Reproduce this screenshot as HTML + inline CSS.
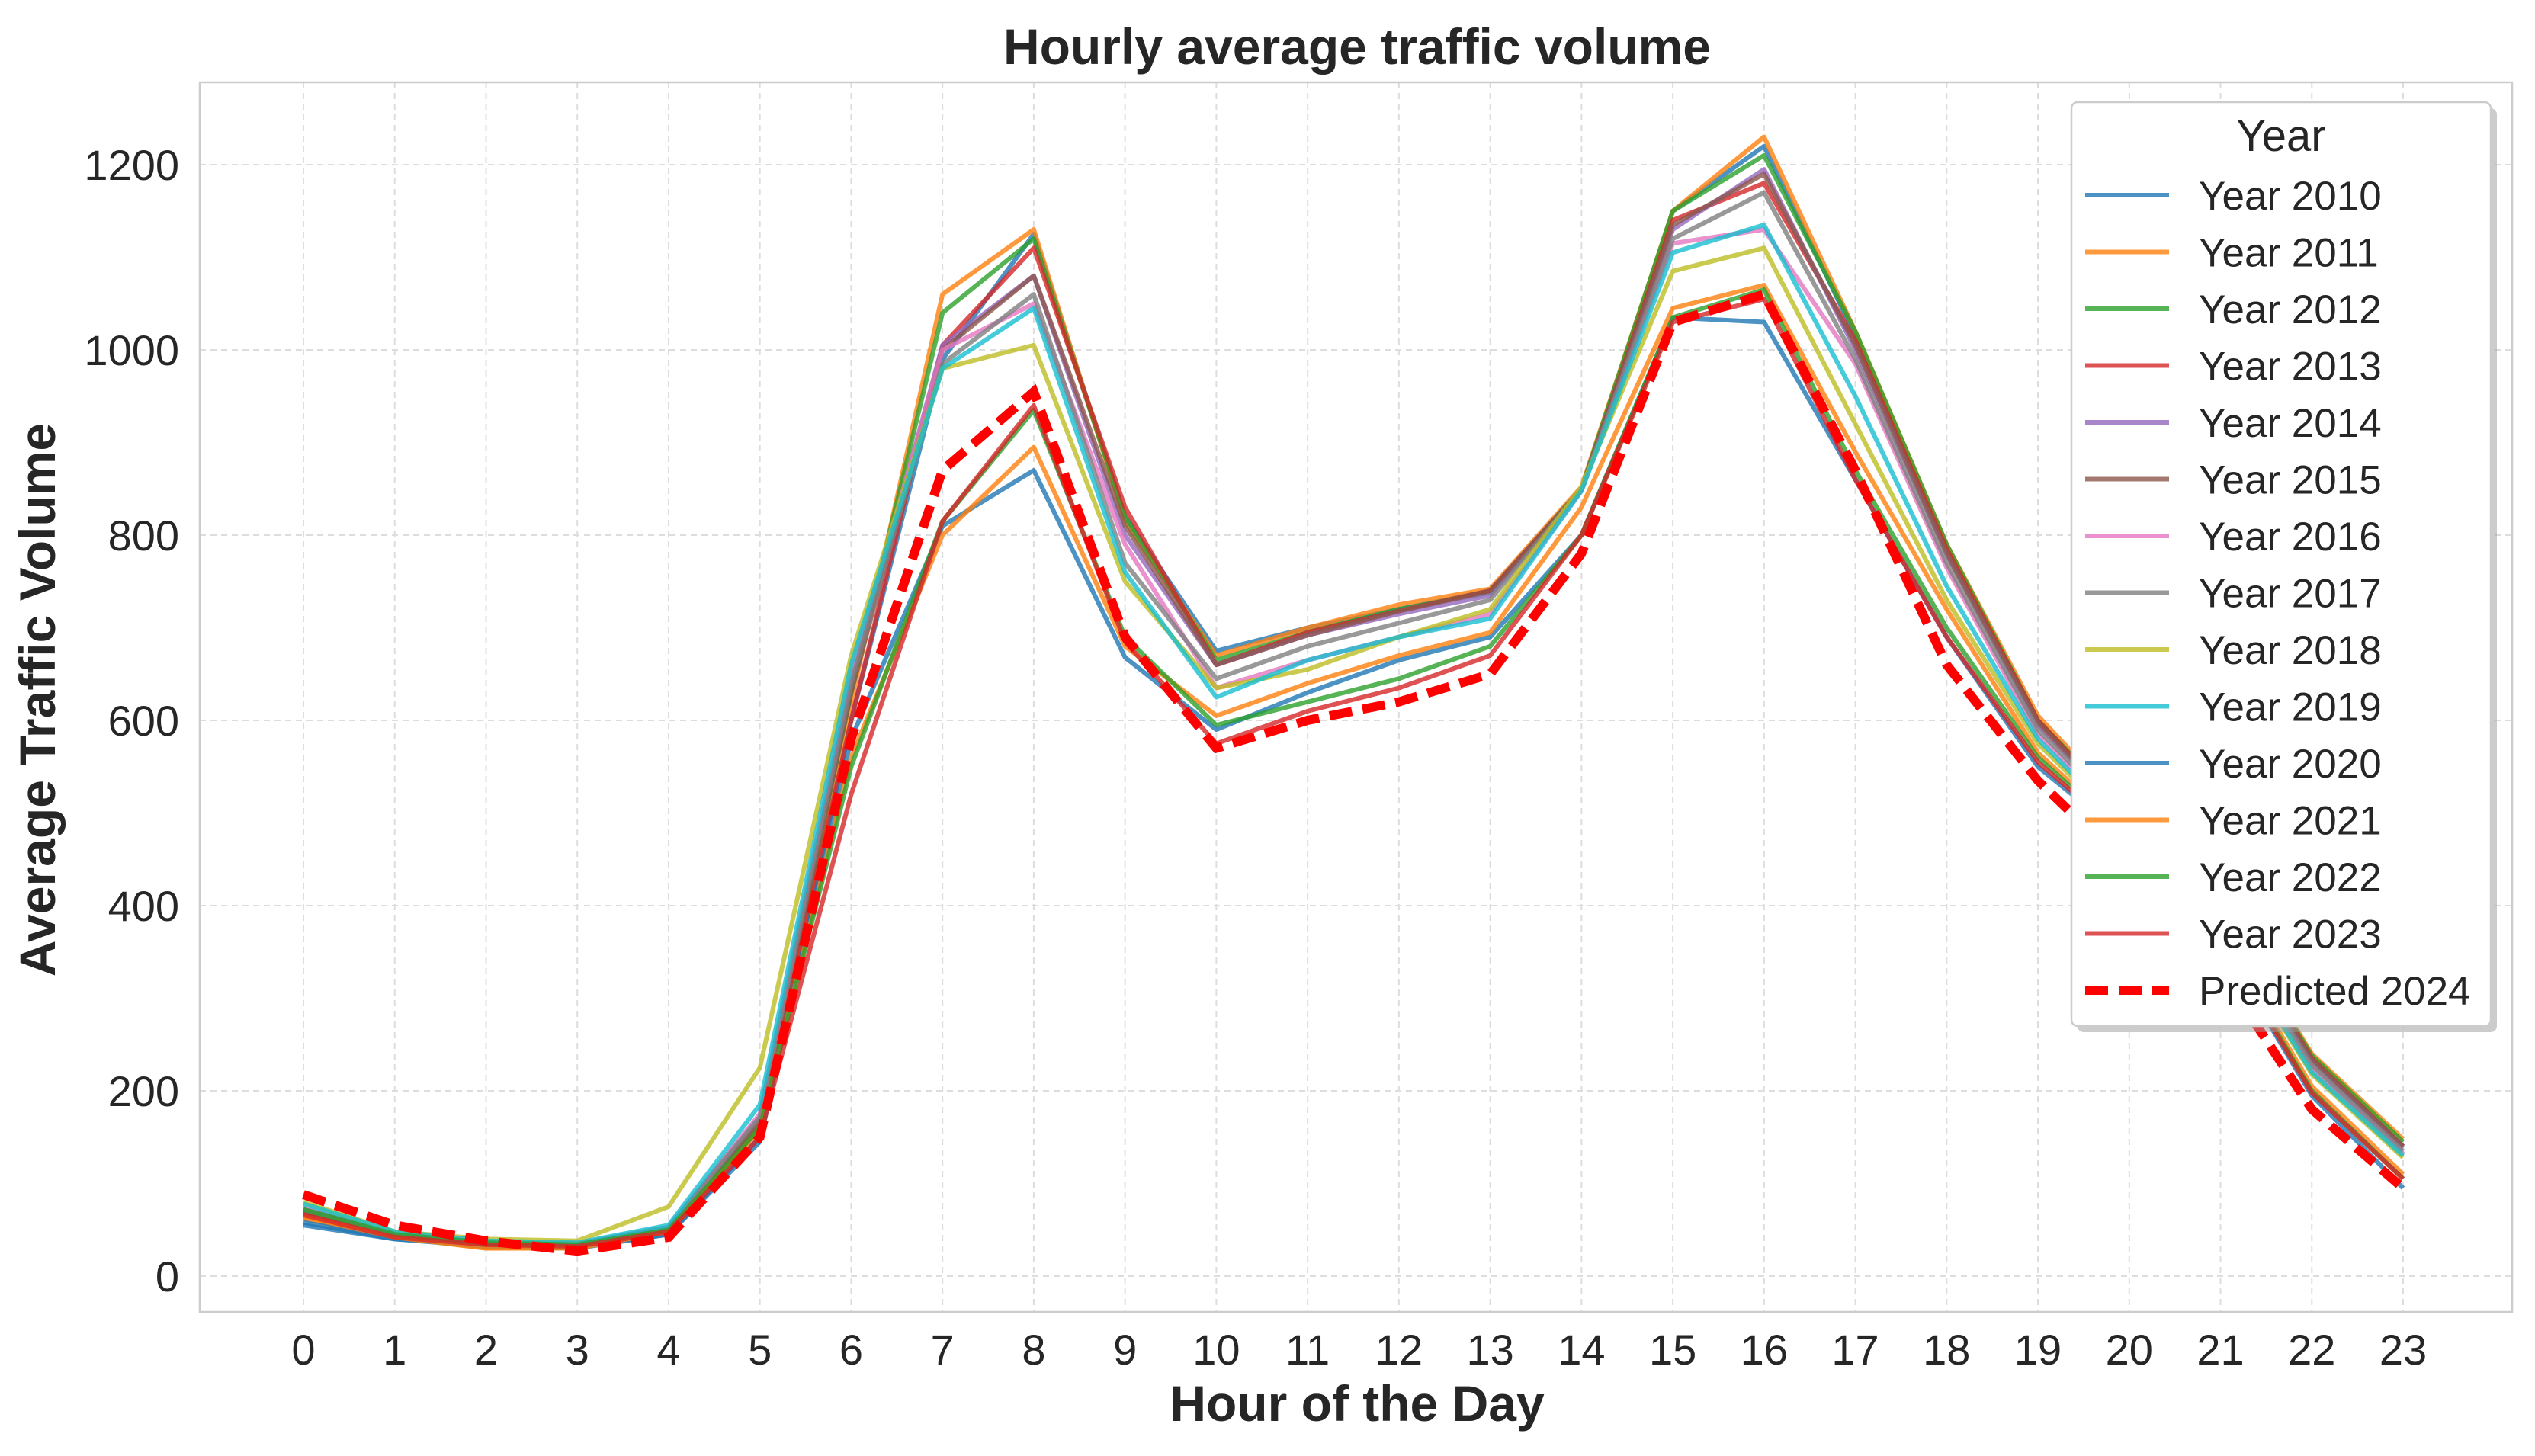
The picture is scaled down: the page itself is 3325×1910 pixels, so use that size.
<!DOCTYPE html>
<html><head><meta charset="utf-8">
<style>
html,body{margin:0;padding:0;background:#fff;}
svg{display:block;font-family:"Liberation Sans","DejaVu Sans",sans-serif;}
</style></head>
<body>
<svg id="chart" width="3325" height="1910" viewBox="0 0 3325 1910" xmlns="http://www.w3.org/2000/svg">
<rect width="3325" height="1910" fill="#fff"/>
<text x="1780" y="84" text-anchor="middle" font-size="66" font-weight="bold" fill="#262626">Hourly average traffic volume</text>
<g id="grid"></g>
<rect x="262" y="108" width="3033" height="1613" fill="none" stroke="#cccccc" stroke-width="2.5"/>
<g id="series"></g>
<g id="ticks"></g>
<text x="1780" y="1864" text-anchor="middle" font-size="66" font-weight="bold" fill="#262626">Hour of the Day</text>
<text transform="translate(72,918) rotate(-90)" text-anchor="middle" font-size="66" font-weight="bold" fill="#262626">Average Traffic Volume</text>
<g id="legend"></g>
</svg>
<script>
const hours=[0,1,2,3,4,5,6,7,8,9,10,11,12,13,14,15,16,17,18,19,20,21,22,23];
const yTicks=[0,200,400,600,800,1000,1200];
const seriesNames=["Year 2010","Year 2011","Year 2012","Year 2013","Year 2014","Year 2015","Year 2016","Year 2017","Year 2018","Year 2019","Year 2020","Year 2021","Year 2022","Year 2023"];
const y2010=[55,40,35,32,45,145,600,990,1125,820,675,700,720,740,850,1150,1220,1015,785,600,495,395,235,140];
const y2011=[62,42,30,30,48,160,620,1060,1130,815,670,700,725,742,852,1150,1230,1020,790,605,500,400,240,148];
const y2012=[70,45,35,33,50,165,630,1040,1120,820,665,695,720,738,850,1150,1210,1020,790,600,498,398,238,145];
const y2013=[68,44,36,34,52,160,600,1005,1110,830,660,695,718,740,848,1140,1180,1010,785,600,495,395,235,140];
const y2014=[72,46,36,34,52,170,640,1005,1080,800,660,692,715,735,848,1130,1195,1000,780,595,492,392,232,138];
const y2015=[70,45,36,34,52,168,630,1000,1080,810,660,692,718,740,850,1135,1190,1005,780,598,494,394,234,140];
const y2016=[74,46,37,35,53,175,650,1000,1050,790,635,665,690,715,848,1115,1130,985,765,585,485,385,225,132];
const y2017=[72,46,37,35,53,172,640,985,1060,770,645,680,705,730,850,1120,1170,990,770,590,488,388,228,135];
const y2018=[80,48,40,38,75,225,670,980,1005,750,635,655,690,720,852,1085,1110,920,730,575,478,378,218,128];
const y2019=[78,48,38,36,55,185,660,980,1045,760,625,665,690,710,848,1105,1135,950,745,580,480,380,220,130];
const y2020=[58,40,32,30,45,150,580,810,870,668,590,630,665,690,800,1035,1030,860,690,550,470,360,195,95];
const y2021=[64,42,30,30,48,158,560,800,895,680,605,640,670,695,830,1045,1070,890,720,565,475,370,205,110];
const y2022=[72,45,36,34,50,160,550,815,935,690,595,620,645,680,800,1035,1065,870,700,560,472,365,200,105];
const y2023=[66,42,34,32,48,150,520,815,940,685,575,610,635,670,800,1030,1055,860,690,555,470,362,198,105];
const predicted2024=[88,55,38,27,42,150,580,870,955,690,570,600,620,650,780,1030,1060,870,660,535,440,330,180,95];
const allSeries=[y2010,y2011,y2012,y2013,y2014,y2015,y2016,y2017,y2018,y2019,y2020,y2021,y2022,y2023];
const colors=["#1f77b4","#ff7f0e","#2ca02c","#d62728","#9467bd","#8c564b","#e377c2","#7f7f7f","#bcbd22","#17becf","#1f77b4","#ff7f0e","#2ca02c","#d62728"];

const NS="http://www.w3.org/2000/svg";
const xScale=h=>398+h*(3152-398)/23;
const yScale=v=>1674-v*(1674-216)/1200;
function mk(tag,attrs,parent){const e=document.createElementNS(NS,tag);for(const k in attrs)e.setAttribute(k,attrs[k]);parent.appendChild(e);return e;}
const grid=document.getElementById('grid'),ticks=document.getElementById('ticks'),ser=document.getElementById('series'),leg=document.getElementById('legend');

hours.forEach(h=>{
  const l=mk('line',{x1:xScale(h),x2:xScale(h),y1:108,y2:1721,stroke:'#dddddd','stroke-width':2,'stroke-dasharray':'8,6'},grid);
  
  
  const t=mk('text',{x:xScale(h),y:1790,'text-anchor':'middle','font-size':56,fill:'#262626'},ticks);
  t.textContent=h;
  
  
});
yTicks.forEach(v=>{
  const l=mk('line',{x1:262,x2:3295,y1:yScale(v),y2:yScale(v),stroke:'#dddddd','stroke-width':2,'stroke-dasharray':'8,6'},grid);
  
  
  const t=mk('text',{x:235,y:yScale(v)+20,'text-anchor':'end','font-size':56,fill:'#262626'},ticks);
  t.textContent=v;
  
  
});
function pathD(arr){return arr.map((v,i)=>(i?'L':'M')+xScale(hours[i]).toFixed(1)+','+yScale(v).toFixed(1)).join(' ');}
allSeries.forEach((arr,i)=>{
  const p=mk('path',{d:pathD(arr),fill:'none',stroke:colors[i],'stroke-width':6,'stroke-opacity':0.8,'stroke-linejoin':'round'},ser);
  
  
});
const pp=mk('path',{d:pathD(predicted2024),fill:'none',stroke:'#ff0000','stroke-width':12,'stroke-dasharray':'30,14'},ser);



// legend
mk('rect',{x:2725,y:142,width:550,height:1212,rx:8,fill:'#999',opacity:0.5},leg);
const box=mk('rect',{x:2717,y:134,width:550,height:1212,rx:8,fill:'#fff',stroke:'#cccccc','stroke-width':2.5},leg);


const lt=mk('text',{x:2992,y:198,'text-anchor':'middle','font-size':58,fill:'#262626'},leg);
lt.textContent='Year';


const names=seriesNames.concat(['Predicted 2024']);
names.forEach((n,i)=>{
  const y=256+i*74.5;
  const g=mk('g',{},leg);
  
  
  if(i<14) mk('line',{x1:2735,x2:2845,y1:y,y2:y,stroke:colors[i],'stroke-width':6,'stroke-opacity':0.8},g);
  else mk('line',{x1:2735,x2:2845,y1:y,y2:y,stroke:'#ff0000','stroke-width':12,'stroke-dasharray':'30,14'},g);
  const t=mk('text',{x:2884,y:y+19,'font-size':53,fill:'#262626'},g);
  t.textContent=n;
});
</script>
</body></html>
